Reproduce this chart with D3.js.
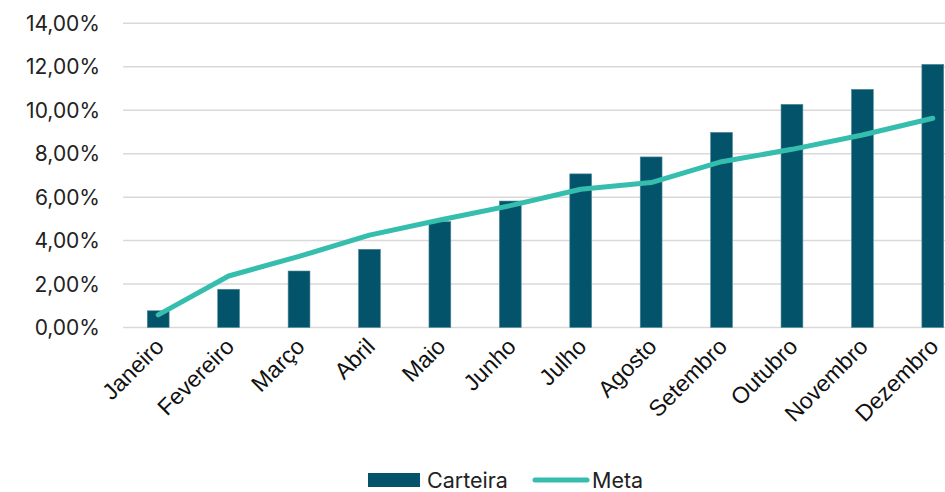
<!DOCTYPE html>
<html>
<head>
<meta charset="utf-8">
<script src="https://cdn.jsdelivr.net/npm/d3@7"></script>
<style>
  body { margin: 0; background: #fff; }
  svg { display: block; }
</style>
</head>
<body>
<svg id="chart" width="945" height="492"></svg>
<script>
// data
var months = ["Janeiro", "Fevereiro", "Março", "Abril", "Maio", "Junho",
              "Julho", "Agosto", "Setembro", "Outubro", "Novembro", "Dezembro"];
var carteira = [0.77, 1.76, 2.60, 3.60, 4.87, 5.82, 7.07, 7.85, 8.98, 10.27, 10.96, 12.11];
var meta = [0.58, 2.37, 3.27, 4.25, 4.95, 5.61, 6.36, 6.67, 7.63, 8.20, 8.86, 9.63];
var yTicks = [0, 2, 4, 6, 8, 10, 12, 14];

var barColor = "#03546b",
    lineColor = "#35bdad";

var svg = d3.select("#chart");

var scales = {
  "x": d3.scaleBand()
    .domain(months)
    .range([123, 968])
    .paddingInner(0.69)
    .paddingOuter(0.345),
  "y": d3.scaleLinear()
    .domain([0, 14])
    .range([327.5, 23.3])
};

var fmt = (d) => d.toFixed(2).replace(".", ",") + "%";

// gridlines
svg.append("g")
  .selectAll("line")
  .data(yTicks)
  .enter()
  .append("line")
  .attr("x1", 123)
  .attr("x2", 945)
  .attr("y1", (d) => scales.y(d))
  .attr("y2", (d) => scales.y(d))
  .attr("stroke", "#d9d9d9")
  .attr("stroke-width", 1.5);

// y axis labels
svg.append("g")
  .selectAll("text")
  .data(yTicks)
  .enter()
  .append("text")
  .attr("x", 100)
  .attr("y", (d) => scales.y(d))
  .attr("dy", "0.36em")
  .attr("text-anchor", "end")
  .attr("font-family", "Inter, 'Open Sans', sans-serif")
  .attr("font-size", 21)
  .attr("fill", "#222")
  .text(fmt);

// bars
svg.append("g")
  .selectAll("rect")
  .data(carteira)
  .enter()
  .append("rect")
  .attr("x", (d, i) => scales.x(months[i]))
  .attr("y", (d) => scales.y(d))
  .attr("width", scales.x.bandwidth())
  .attr("height", (d) => scales.y(0) - scales.y(d))
  .attr("fill", barColor)
  .attr("stroke", "#4f8a9b")
  .attr("stroke-width", 0.6);

// meta line
var line = d3.line()
  .x((d, i) => scales.x(months[i]) + scales.x.bandwidth() / 2)
  .y((d) => scales.y(d));

svg.append("path")
  .datum(meta)
  .attr("d", line)
  .attr("fill", "none")
  .attr("stroke", lineColor)
  .attr("stroke-width", 5)
  .attr("stroke-linecap", "round")
  .attr("stroke-linejoin", "round");

// x labels, rotated
svg.append("g")
  .selectAll("text")
  .data(months)
  .enter()
  .append("text")
  .attr("transform", (d) => "translate(" + (scales.x(d) + scales.x.bandwidth() / 2 + 7) + ",348) rotate(-45)")
  .attr("text-anchor", "end")
  .attr("font-family", "'Liberation Sans', Arial, sans-serif")
  .attr("font-size", 23)
  .attr("fill", "#111")
  .text((d) => d);

// legend
var legend = svg.append("g");
legend.append("rect")
  .attr("x", 368).attr("y", 473)
  .attr("width", 52).attr("height", 14)
  .attr("fill", barColor);
legend.append("text")
  .attr("x", 427).attr("y", 487.5)
  .attr("font-family", "Inter, 'Open Sans', sans-serif")
  .attr("font-size", 21.5)
  .attr("fill", "#222")
  .text("Carteira");
legend.append("line")
  .attr("x1", 535).attr("x2", 587)
  .attr("y1", 480).attr("y2", 480)
  .attr("stroke", lineColor)
  .attr("stroke-width", 5)
  .attr("stroke-linecap", "round");
legend.append("text")
  .attr("x", 592).attr("y", 487.5)
  .attr("font-family", "Inter, 'Open Sans', sans-serif")
  .attr("font-size", 21.5)
  .attr("fill", "#222")
  .text("Meta");
</script>
</body>
</html>
